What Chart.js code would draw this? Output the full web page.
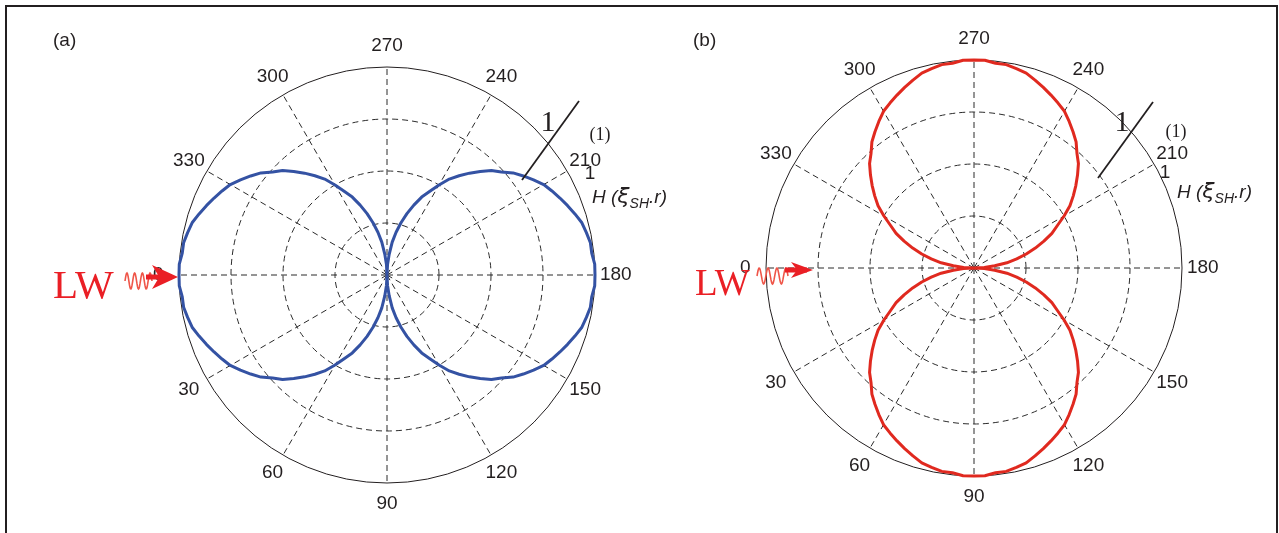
<!DOCTYPE html>
<html>
<head>
<meta charset="utf-8">
<title>Polar patterns (a) / (b)</title>
<script src="https://cdn.jsdelivr.net/npm/chart.js@4.4.1/dist/chart.umd.min.js"></script>
<style>
  html, body { margin: 0; padding: 0; background: #fff; }
  body { width: 1279px; height: 533px; position: relative; overflow: hidden; }
  .frame { position: absolute; left: 5px; top: 5px; width: 1269px; height: 600px; border: 2px solid #231f20; }
  canvas { position: absolute; top: 0; }
  #polar-a { left: 0; }
  #polar-b { left: 690px; }
</style>
</head>
<body>
<div class="frame"></div>
<canvas id="polar-a" width="690" height="533"></canvas>
<canvas id="polar-b" width="589" height="533"></canvas>
<script>
// angle of each sample, degrees (as printed on the plots)
const angles = [0, 3, 6, 9, 12, 15, 18, 21, 24, 27, 30, 33, 36, 39, 42, 45, 48, 51, 54, 57,
  60, 63, 66, 69, 72, 75, 78, 81, 84, 87, 90, 93, 96, 99, 102, 105, 108, 111, 114, 117,
  120, 123, 126, 129, 132, 135, 138, 141, 144, 147, 150, 153, 156, 159, 162, 165, 168, 171, 174, 177,
  180, 183, 186, 189, 192, 195, 198, 201, 204, 207, 210, 213, 216, 219, 222, 225, 228, 231, 234, 237,
  240, 243, 246, 249, 252, 255, 258, 261, 264, 267, 270, 273, 276, 279, 282, 285, 288, 291, 294, 297,
  300, 303, 306, 309, 312, 315, 318, 321, 324, 327, 330, 333, 336, 339, 342, 345, 348, 351, 354, 357];

// tick labels round the rim
const angleTicks = [0, 30, 60, 90, 120, 150, 180, 210, 240, 270, 300, 330];
const radiusTicks = [0.25, 0.5, 0.75, 1];

// (a) blue pattern
const patternA = [1.00, 1.00, 0.99, 0.99, 0.98, 0.97, 0.95, 0.93, 0.91, 0.89, 0.87, 0.84, 0.81, 0.78, 0.74, 0.71, 0.67, 0.63, 0.59, 0.55,
  0.50, 0.45, 0.41, 0.36, 0.31, 0.26, 0.21, 0.16, 0.10, 0.05, 0.00, 0.05, 0.10, 0.16, 0.21, 0.26, 0.31, 0.36, 0.41, 0.45,
  0.50, 0.55, 0.59, 0.63, 0.67, 0.71, 0.74, 0.78, 0.81, 0.84, 0.87, 0.89, 0.91, 0.93, 0.95, 0.97, 0.98, 0.99, 0.99, 1.00,
  1.00, 1.00, 0.99, 0.99, 0.98, 0.97, 0.95, 0.93, 0.91, 0.89, 0.87, 0.84, 0.81, 0.78, 0.74, 0.71, 0.67, 0.63, 0.59, 0.55,
  0.50, 0.45, 0.41, 0.36, 0.31, 0.26, 0.21, 0.16, 0.10, 0.05, 0.00, 0.05, 0.10, 0.16, 0.21, 0.26, 0.31, 0.36, 0.41, 0.45,
  0.50, 0.55, 0.59, 0.63, 0.67, 0.71, 0.74, 0.78, 0.81, 0.84, 0.87, 0.89, 0.91, 0.93, 0.95, 0.97, 0.98, 0.99, 0.99, 1.00];

// (b) red pattern
const patternB = [0.00, 0.05, 0.10, 0.16, 0.21, 0.26, 0.31, 0.36, 0.41, 0.45, 0.50, 0.55, 0.59, 0.63, 0.67, 0.71, 0.74, 0.78, 0.81, 0.84,
  0.87, 0.89, 0.91, 0.93, 0.95, 0.97, 0.98, 0.99, 0.99, 1.00, 1.00, 1.00, 0.99, 0.99, 0.98, 0.97, 0.95, 0.93, 0.91, 0.89,
  0.87, 0.84, 0.81, 0.78, 0.74, 0.71, 0.67, 0.63, 0.59, 0.55, 0.50, 0.45, 0.41, 0.36, 0.31, 0.26, 0.21, 0.16, 0.10, 0.05,
  0.00, 0.05, 0.10, 0.16, 0.21, 0.26, 0.31, 0.36, 0.41, 0.45, 0.50, 0.55, 0.59, 0.63, 0.67, 0.71, 0.74, 0.78, 0.81, 0.84,
  0.87, 0.89, 0.91, 0.93, 0.95, 0.97, 0.98, 0.99, 0.99, 1.00, 1.00, 1.00, 0.99, 0.99, 0.98, 0.97, 0.95, 0.93, 0.91, 0.89,
  0.87, 0.84, 0.81, 0.78, 0.74, 0.71, 0.67, 0.63, 0.59, 0.55, 0.50, 0.45, 0.41, 0.36, 0.31, 0.26, 0.21, 0.16, 0.10, 0.05];

const INK = '#231f20';
const GRID = '#2b2b2b';

// radar goes clockwise from startAngle, the figure counts anticlockwise from the left
const order = angles.map(a => (360 - a) % 360);
const radarLabels = order.map(String);
function toRadar(values) {
  return order.map(a => values[angles.indexOf(a)]);
}

function sine(ctx, x0, x1, y, amp, cycles) {
  ctx.beginPath();
  for (let x = x0; x <= x1; x += 0.5) {
    let y1 = y - amp * Math.sin((x - x0) / (x1 - x0) * cycles * 2 * Math.PI);
    if (x === x0) ctx.moveTo(x, y1); else ctx.lineTo(x, y1);
  }
  ctx.stroke();
}

const polarDecor = {
  id: 'polarDecor',
  afterDatasetsDraw(chart, args, o) {
    const ctx = chart.ctx;
    const r = chart.scales.r;
    const cx = r.xCenter, cy = r.yCenter;
    ctx.save();

    // angle labels at 1.1 R, like matlab's polar()
    ctx.fillStyle = INK;
    ctx.font = "19px 'Liberation Sans', Arial, sans-serif";
    ctx.textAlign = 'center';
    ctx.textBaseline = 'middle';
    angleTicks.forEach(a => {
      let p = r.getPointPosition(order.indexOf(a), r.drawingArea * 1.1);
      ctx.fillText(String(a), p.x, p.y);
    });
    // radius tick "1"
    ctx.fillText(String(radiusTicks[radiusTicks.length - 1]), cx + o.rTick[0], cy + o.rTick[1]);

    // panel tag
    ctx.textAlign = 'left';
    ctx.fillText(o.tag, cx + o.tagPos[0], cy + o.tagPos[1]);

    // pointer line with "1"
    ctx.strokeStyle = INK;
    ctx.lineWidth = 1.8;
    ctx.beginPath();
    ctx.moveTo(cx + o.line[0], cy + o.line[1]);
    ctx.lineTo(cx + o.line[2], cy + o.line[3]);
    ctx.stroke();
    ctx.textAlign = 'center';
    ctx.font = "30px 'Liberation Serif', 'Times New Roman', serif";
    ctx.fillText('1', cx + o.one[0], cy + o.one[1]);
    ctx.font = "18px 'Liberation Serif', 'Times New Roman', serif";
    ctx.fillText('(1)', cx + o.sup[0], cy + o.sup[1]);

    // H(xi_SH . r)
    ctx.textAlign = 'left';
    ctx.textBaseline = 'alphabetic';
    let x = cx + o.hText[0], y = cy + o.hText[1];
    ctx.font = "italic 19px 'Liberation Sans', Arial, sans-serif";
    ctx.fillText('H (', x, y);
    x += ctx.measureText('H (').width;
    ctx.font = "italic 22px 'DejaVu Sans', sans-serif";
    ctx.fillText('ξ', x, y);
    x += ctx.measureText('ξ').width;
    ctx.font = "italic 14px 'Liberation Sans', Arial, sans-serif";
    ctx.fillText('SH', x, y + 5);
    x += ctx.measureText('SH').width;
    ctx.font = "italic 19px 'Liberation Sans', Arial, sans-serif";
    ctx.fillText('.r)', x, y);

    // incoming wave: LW, squiggle, arrow
    ctx.fillStyle = '#ea1f25';
    ctx.font = o.lwSize + "px 'Liberation Serif', 'Times New Roman', serif";
    ctx.fillText('LW', cx + o.lw[0], cy + o.lw[1]);
    ctx.strokeStyle = '#ef5548';
    ctx.lineWidth = 1.6;
    sine(ctx, cx + o.wave[0], cx + o.wave[1], cy + o.wave[2], 8, 3.5);
    let tx = cx + o.arrow[0], ty = cy + o.arrow[1], L = o.arrow[2], h = o.arrow[3];
    ctx.fillStyle = '#ea1f25';
    ctx.fillRect(tx - L - 6, ty - 2.5, L, 5);
    ctx.beginPath();
    ctx.moveTo(tx, ty);
    ctx.lineTo(tx - L, ty - h);
    ctx.lineTo(tx - L * 0.72, ty);
    ctx.lineTo(tx - L, ty + h);
    ctx.closePath();
    ctx.fill();
    ctx.restore();
  }
};

function makePolar(el, values, colour, padding, decor) {
  return new Chart(el, {
    type: 'radar',
    data: {
      labels: radarLabels,
      datasets: [{
        data: toRadar(values),
        borderColor: colour,
        borderWidth: 3,
        borderJoinStyle: 'round',
        pointRadius: 0,
        fill: false,
        tension: 0
      }]
    },
    options: {
      responsive: false,
      animation: false,
      layout: { padding: padding },
      scales: {
        r: {
          min: 0,
          max: 1,
          startAngle: 270,
          ticks: { display: false, stepSize: radiusTicks[0] },
          pointLabels: { display: false },
          grid: {
            circular: true,
            color: c => c.index === radiusTicks.length ? INK : GRID,
            lineWidth: 1
          },
          border: { dash: c => c.index === radiusTicks.length ? [] : [6, 4] },
          angleLines: {
            color: GRID,
            lineWidth: c => angleTicks.indexOf(Number(radarLabels[c.index])) >= 0 ? 1 : 0,
            borderDash: [6, 4]
          }
        }
      },
      plugins: {
        legend: { display: false },
        tooltip: { enabled: false },
        polarDecor: decor
      }
    },
    plugins: [polarDecor]
  });
}

makePolar(document.getElementById('polar-a'), patternA, '#3452a3',
  { left: 179, right: 95, top: 67, bottom: 50 },
  {
    tag: '(a)', tagPos: [-334, -234],
    rTick: [203, -101],
    line: [135, -95, 192, -174], one: [161, -152], sup: [213, -140],
    hText: [205, -72],
    lw: [-334, 23], lwSize: 41,
    wave: [-262, -235, 6],
    arrow: [-209, 2, 26, 12]
  });

makePolar(document.getElementById('polar-b'), patternB, '#e0291f',
  { left: 76, right: 97, top: 60, bottom: 57 },
  {
    tag: '(b)', tagPos: [-281, -227],
    rTick: [191, -95],
    line: [124, -90, 179, -166], one: [148, -145], sup: [202, -136],
    hText: [203, -70],
    lw: [-279, 27], lwSize: 37,
    wave: [-217, -186, 8],
    arrow: [-161, 2, 22, 8]
  });
</script>
</body>
</html>
